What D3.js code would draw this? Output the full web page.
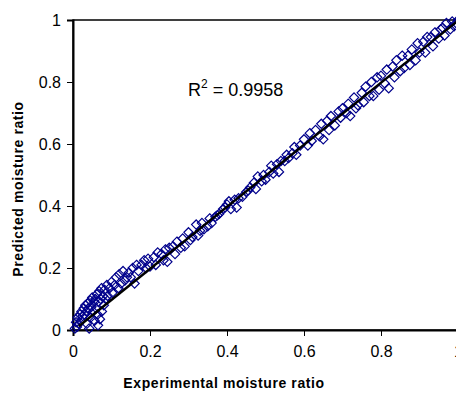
<!DOCTYPE html>
<html>
<head>
<meta charset="utf-8">
<script src="https://cdn.jsdelivr.net/npm/d3@7"></script>
<style>
  body { margin: 0; background: #fff; }
  svg { display: block; font-family: "Liberation Sans", Arial, sans-serif; }
</style>
</head>
<body>
<svg id="chart"></svg>
<script>
// experimental vs predicted moisture ratio
const expMR = [0.005,0.008,0.01,0.012,0.015,0.018,0.02,0.022,0.025,0.028,0.03,0.032,0.035,0.036,0.038,0.04,0.042,0.045,0.046,0.048,
  0.05,0.052,0.055,0.056,0.058,0.06,0.062,0.064,0.065,0.066,0.068,0.07,0.072,0.074,0.075,0.078,0.08,0.082,0.085,0.088,
  0.09,0.095,0.1,0.102,0.108,0.112,0.118,0.12,0.125,0.13,0.135,0.14,0.145,0.15,0.155,0.16,0.165,0.17,0.178,0.185,
  0.19,0.195,0.2,0.21,0.215,0.22,0.23,0.235,0.24,0.245,0.25,0.26,0.265,0.27,0.28,0.285,0.29,0.3,0.305,0.31,
  0.32,0.325,0.33,0.335,0.34,0.35,0.355,0.36,0.37,0.375,0.38,0.39,0.395,0.4,0.405,0.41,0.42,0.425,0.43,0.44,
  0.45,0.455,0.46,0.47,0.475,0.48,0.49,0.495,0.5,0.51,0.515,0.52,0.53,0.535,0.54,0.55,0.555,0.56,0.57,0.575,
  0.58,0.59,0.6,0.61,0.615,0.62,0.63,0.64,0.645,0.65,0.66,0.665,0.67,0.68,0.69,0.695,0.7,0.71,0.715,0.72,
  0.73,0.735,0.74,0.75,0.755,0.76,0.77,0.775,0.78,0.79,0.795,0.8,0.81,0.815,0.82,0.83,0.835,0.84,0.85,0.855,
  0.86,0.87,0.875,0.88,0.89,0.895,0.9,0.91,0.915,0.92,0.93,0.935,0.94,0.95,0.955,0.96,0.965,0.97,0.98,0.985,
  0.99,1.0,0.995];
const predMR = [0.005,0.025,0.01,0.04,0.02,0.05,0.03,0.06,0.045,0.07,0.05,0.08,0.06,0.02,0.085,0.07,0.005,0.095,0.04,0.075,
  0.105,0.06,0.09,0.03,0.1,0.07,0.115,0.05,0.015,0.09,0.125,0.035,0.1,0.135,0.06,0.11,0.08,0.13,0.1,0.145,
  0.11,0.135,0.155,0.12,0.145,0.17,0.135,0.18,0.15,0.19,0.16,0.17,0.185,0.17,0.2,0.15,0.21,0.19,0.21,0.225,
  0.2,0.23,0.205,0.235,0.21,0.25,0.245,0.225,0.26,0.22,0.265,0.27,0.245,0.285,0.265,0.295,0.27,0.315,0.29,0.3,
  0.34,0.305,0.32,0.345,0.325,0.335,0.36,0.345,0.365,0.37,0.375,0.39,0.395,0.405,0.415,0.39,0.42,0.395,0.425,0.43,
  0.445,0.45,0.46,0.475,0.455,0.495,0.48,0.5,0.485,0.51,0.53,0.505,0.535,0.51,0.545,0.545,0.565,0.555,0.57,0.59,
  0.565,0.595,0.615,0.595,0.635,0.61,0.645,0.625,0.665,0.615,0.675,0.645,0.69,0.66,0.705,0.685,0.715,0.7,0.73,0.69,
  0.75,0.715,0.725,0.765,0.735,0.785,0.755,0.8,0.755,0.815,0.775,0.82,0.795,0.84,0.78,0.85,0.815,0.87,0.835,0.885,
  0.845,0.885,0.855,0.905,0.87,0.925,0.895,0.93,0.895,0.945,0.945,0.915,0.96,0.94,0.97,0.975,0.95,0.99,0.97,0.995,
  0.98,1.0,0.99];

// fitted line end points
const fitX = [0.015, 1.0];
const fitY = [0.012, 0.998];

const xTicks = [0, 0.2, 0.4, 0.6, 0.8, 1];
const yTicks = [0, 0.2, 0.4, 0.6, 0.8, 1];

const width = 456, height = 394;
const mLeft = 73, mRight = 458, mTop = 20, mBottom = 330;

const svg = d3.select("#chart").attr("width", width).attr("height", height);

const x = d3.scaleLinear().domain([0, 1]).range([mLeft, mRight]);
const y = d3.scaleLinear().domain([0, 1]).range([mBottom, mTop]);

// plot frame (right side falls off the picture)
svg.append("rect")
  .attr("x", mLeft).attr("y", mTop)
  .attr("width", mRight - mLeft).attr("height", mBottom - mTop)
  .attr("fill", "none").attr("stroke", "#000").attr("stroke-width", 1.5);

const xAxis = svg.append("g")
  .attr("transform", `translate(0,${mBottom})`)
  .call(d3.axisBottom(x).tickValues(xTicks).tickFormat(d3.format("")).tickSize(6).tickPadding(10));
const yAxis = svg.append("g")
  .attr("transform", `translate(${mLeft},0)`)
  .call(d3.axisLeft(y).tickValues(yTicks).tickFormat(d3.format("")).tickSize(6).tickPadding(6));

[xAxis, yAxis].forEach(g => {
  g.select(".domain").attr("stroke", "#000").attr("stroke-width", 2);
  g.selectAll(".tick line").attr("stroke", "#000").attr("stroke-width", 1);
  g.selectAll(".tick text")
    .attr("fill", "#000")
    .style("font-family", "'Liberation Sans', Arial, sans-serif")
    .style("font-size", "16px");
});

const pts = expMR.map((d, i) => [d, predMR[i]]);
const diamond = d3.symbol().type(d3.symbolDiamond2).size(55);

svg.append("g").selectAll("path")
  .data(pts)
  .enter().append("path")
    .attr("d", diamond)
    .attr("transform", d => `translate(${x(d[0])},${y(d[1])})`)
    .attr("fill", "none")
    .attr("stroke", "#00008c")
    .attr("stroke-width", 1.2);

svg.append("path")
  .datum(fitX.map((d, i) => [d, fitY[i]]))
  .attr("d", d3.line().x(d => x(d[0])).y(d => y(d[1])))
  .attr("stroke", "#000")
  .attr("stroke-width", 2.5)
  .attr("fill", "none");

// R squared note
const r2 = svg.append("text")
  .attr("x", 188).attr("y", 96)
  .style("font-size", "18px")
  .attr("fill", "#000");
r2.append("tspan").text("R");
r2.append("tspan").attr("dy", -8).style("font-size", "12px").text("2");
r2.append("tspan").attr("dy", 8).text(" = 0.9958");

svg.append("text")
  .attr("x", 224).attr("y", 388)
  .attr("text-anchor", "middle")
  .style("font-size", "14px").style("font-weight", "bold")
  .style("letter-spacing", "0.6px")
  .text("Experimental moisture ratio");

svg.append("text")
  .attr("transform", "translate(23,189) rotate(-90)")
  .attr("text-anchor", "middle")
  .style("font-size", "14px").style("font-weight", "bold")
  .style("letter-spacing", "0.6px")
  .text("Predicted moisture ratio");
</script>
</body>
</html>
